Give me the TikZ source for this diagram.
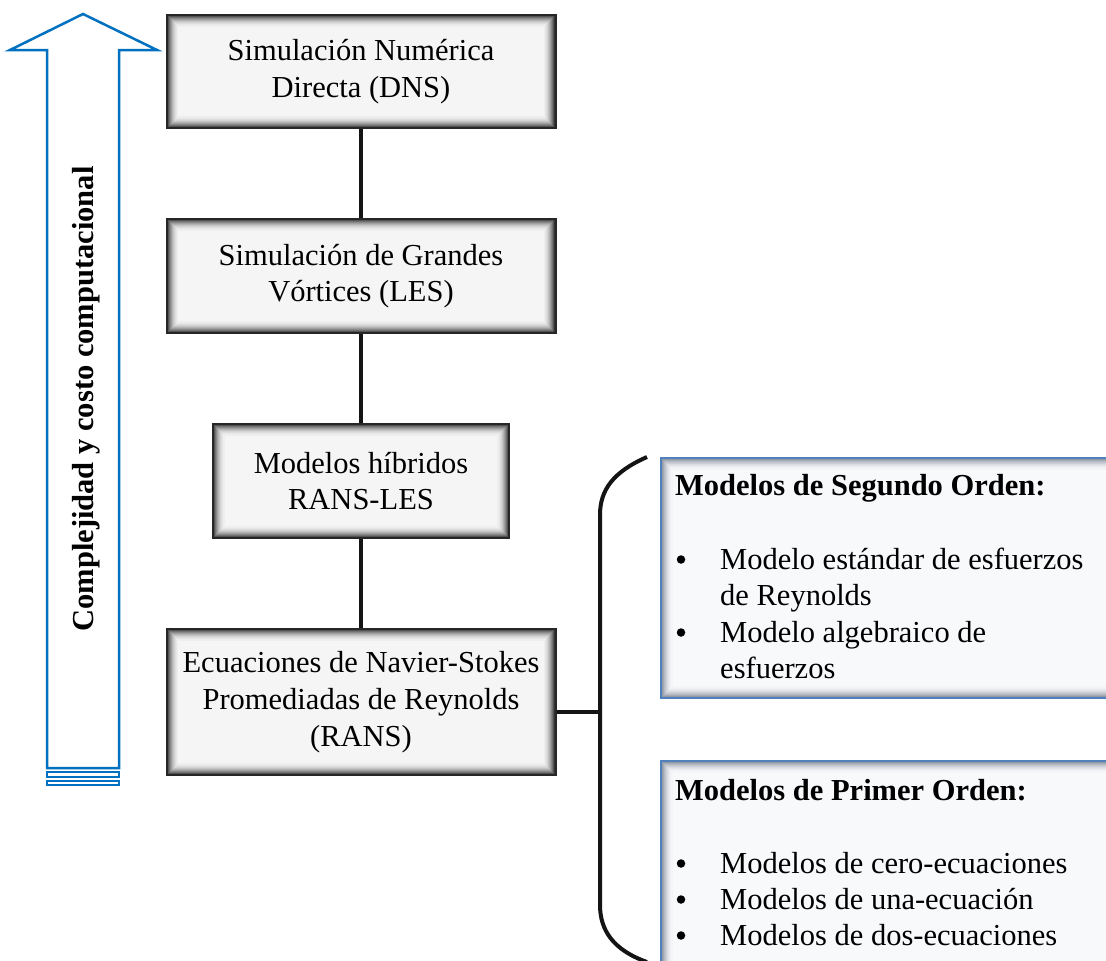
\documentclass[tikz,border=0pt]{standalone}
\usepackage{fontspec}
\setmainfont{Liberation Serif}
\newcommand\bodyfs{\fontsize{30.5}{36.7}\selectfont}
\definecolor{arrowblue}{RGB}{0,112,192}
\definecolor{boxblue}{RGB}{79,129,189}
\definecolor{shadowblue}{RGB}{105,113,130}
\definecolor{paleblue}{RGB}{248,249,251}
\definecolor{palegray}{RGB}{245,245,245}
\tikzset{
  glowgray/.style={path picture={
    \foreach \i/\c in {1/78,2/66,3/54,4/44,5/35,6/27,7/20,8/14,9/10,10/6,11/3}{
      \draw[black!\c!palegray, line width=1.1pt]
        ([xshift=\i pt,yshift=-\i pt]path picture bounding box.north west) rectangle
        ([xshift=-\i pt,yshift=\i pt]path picture bounding box.south east);}}},
  glowblue/.style={path picture={
    \foreach \i/\c in {1/82,2/70,3/58,4/47,5/38,6/30,7/22,8/16,9/10,10/6,11/3}{
      \draw[shadowblue!\c!paleblue, line width=1.1pt]
        ([xshift=\i pt,yshift=-\i pt]path picture bounding box.north west) rectangle
        ([xshift=-\i pt,yshift=\i pt]path picture bounding box.south east);}}},
  gbox/.style={draw=black!85, line width=2pt, fill=palegray, align=center,
    font=\bodyfs, inner sep=0pt, glowgray},
  bbox/.style={draw=boxblue, line width=2pt, fill=paleblue, inner sep=0pt,
    anchor=north west, glowblue},
  conn/.style={line width=4.5pt, black!92},
  line/.style={anchor=base west, inner sep=0pt, font=\bodyfs},
  bul/.style={circle, fill=black, inner sep=0pt, minimum size=8.5pt},
  arrowline/.style={draw=arrowblue, line width=2.5pt, line join=miter},
}
\begin{document}
\begin{tikzpicture}[x=1pt,y=-1pt]
\useasboundingbox (0,0) rectangle (1106,961);
\clip (0,0) rectangle (1106,961);

% big blue arrow
\draw[arrowline] (83,14) -- (157,50) -- (119,50) -- (119,768) -- (47,768)
  -- (47,50) -- (10,50) -- cycle;
\draw[draw=arrowblue, line width=2pt] (47,772) rectangle (119,777);
\draw[draw=arrowblue, line width=2pt] (47,780.5) rectangle (119,784.5);
\node[rotate=90, anchor=base, inner sep=0pt, font=\bodyfs\bfseries] (axis)
  at (93,399) {Complejidad y costo computacional};

% main boxes
\node[gbox, minimum width=389pt, minimum height=113pt] (dns) at (361,71.5)
  {Simulación Numérica\\Directa (DNS)};
\node[gbox, minimum width=389pt, minimum height=114pt] (les) at (361,276)
  {Simulación de Grandes\\Vórtices (LES)};
\node[gbox, minimum width=296pt, minimum height=114pt] (hyb) at (361,481)
  {Modelos híbridos\\RANS-LES};
\node[gbox, minimum width=389pt, minimum height=146pt] (rans) at (361,702)
  {Ecuaciones de Navier-Stokes\\Promediadas de Reynolds\\(RANS)};

\draw[conn] (dns.south) -- (les.north);
\draw[conn] (les.south) -- (hyb.north);
\draw[conn] (hyb.south) -- (rans.north);

% brace
\coordinate (btop) at (647,457);
\coordinate (bmid) at (600,712);
\coordinate (bbot) at (647,962);
\draw[conn, line width=4pt] (btop) .. controls (613,472) and (600,490) .. (600,515)
  -- (600,905) .. controls (600,930) and (613,950) .. (bbot);
\draw[conn] ([yshift=-10pt]rans.east) -- (bmid);

% right boxes
\node[bbox, minimum width=470pt, minimum height=240pt] (seg) at (660,457) {};
\node[bbox, minimum width=470pt, minimum height=240pt] (pri) at (660,760) {};

\node[line, font=\bodyfs\bfseries] (s0) at (675,495) {Modelos de Segundo Orden:};
\node[bul] (sb1) at (681,559.5) {};
\node[line] (s1) at (720,569) {Modelo estándar de esfuerzos};
\node[line] (s2) at (720,605.5) {de Reynolds};
\node[bul] (sb2) at (681,632.5) {};
\node[line] (s3) at (720,642) {Modelo algebraico de};
\node[line] (s4) at (720,678.5) {esfuerzos};

\node[line, font=\bodyfs\bfseries] (p0) at (675,800) {Modelos de Primer Orden:};
\node[bul] (pb1) at (681,863.5) {};
\node[line] (p1) at (720,873) {Modelos de cero-ecuaciones};
\node[bul] (pb2) at (681,899.5) {};
\node[line] (p2) at (720,909) {Modelos de una-ecuación};
\node[bul] (pb3) at (681,935.5) {};
\node[line] (p3) at (720,945) {Modelos de dos-ecuaciones};
\end{tikzpicture}
\end{document}
